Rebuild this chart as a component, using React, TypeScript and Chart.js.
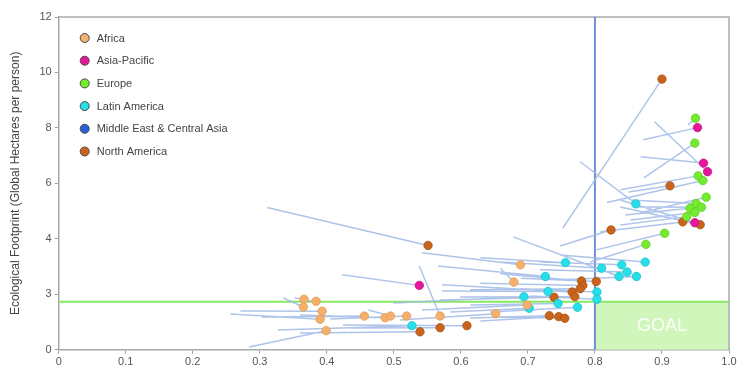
import React, { useEffect, useRef } from 'react';
import { Chart, registerables, LinearScale } from 'chart.js';

// ---------- data ----------
const Y_TICKS = [0, 3, 4, 6, 8, 10, 12];
const X_MIN = 0;
const X_MAX = 1;
const X_STEP = 0.1;
const GOAL_HDI = 0.8;
const BIOCAPACITY = 2.6;
const GOAL_LABEL = 'GOAL';
const Y_TITLE = 'Ecological Footprint (Global Hectares per person)';

const REGIONS = ['Africa', 'Asia-Pacific', 'Europe', 'Latin America', 'Middle East & Central Asia', 'North America'];

// [HDI, footprint] now
const AFRICA = [[0.366, 2.73], [0.384, 2.62], [0.365, 2.31], [0.393, 2.08], [0.390, 1.65], [0.399, 1.03], [0.456, 1.82], [0.487, 1.73], [0.495, 1.82], [0.519, 1.82], [0.569, 1.82], [0.652, 1.95], [0.689, 3.53], [0.679, 3.22], [0.699, 2.42]];
const AFRICA_FROM = [[0.352, 2.80], [0.370, 2.66], [0.335, 2.80], [0.271, 2.10], [0.256, 1.93], [0.284, 0.15], [0.303, 1.77], [0.360, 1.88], [0.462, 2.15], [0.405, 1.66], [0.538, 3.51], [0.509, 1.61], [0.542, 3.75], [0.659, 3.47], [0.542, 2.15]];

const ASIA_PACIFIC = [[0.538, 3.16], [0.953, 8.01], [0.962, 6.73], [0.968, 6.42], [0.949, 4.58]];
const ASIA_PACIFIC_FROM = [[0.423, 3.35], [0.872, 7.57], [0.868, 6.96], [0.889, 8.22], [0.838, 5.40]];

const EUROPE = [[0.950, 8.35], [0.949, 7.45], [0.954, 6.27], [0.961, 6.10], [0.966, 5.50], [0.951, 5.27], [0.959, 5.14], [0.942, 5.10], [0.949, 4.95], [0.937, 4.80], [0.904, 4.20], [0.876, 3.90]];
const EUROPE_FROM = [[0.939, 8.11], [0.873, 6.20], [0.838, 5.77], [0.818, 5.31], [0.868, 4.94], [0.853, 5.40], [0.857, 5.15], [0.845, 4.86], [0.853, 4.68], [0.838, 4.50], [0.802, 3.80], [0.793, 3.58]];

const LATIN_AMERICA = [[0.527, 1.30], [0.861, 5.26], [0.875, 3.58], [0.840, 3.53], [0.848, 3.40], [0.836, 3.32], [0.862, 3.32], [0.810, 3.47], [0.756, 3.57], [0.726, 3.32], [0.803, 3.04], [0.803, 2.73], [0.730, 3.05], [0.694, 2.87], [0.745, 2.50], [0.774, 2.30], [0.702, 2.24]];
const LATIN_AMERICA_FROM = [[0.327, 1.07], [0.778, 6.78], [0.748, 3.71], [0.718, 3.58], [0.718, 3.44], [0.678, 4.07], [0.748, 3.26], [0.659, 3.58], [0.629, 3.66], [0.566, 3.51], [0.689, 3.10], [0.704, 2.91], [0.572, 3.06], [0.499, 2.53], [0.614, 2.42], [0.644, 2.04], [0.584, 2.04]];

const MIDDLE_EAST: number[][] = [];
const MIDDLE_EAST_FROM: number[][] = [];

const NORTH_AMERICA = [[0.900, 9.76], [0.551, 3.88], [0.912, 5.91], [0.931, 4.61], [0.957, 4.51], [0.824, 4.32], [0.802, 3.23], [0.780, 3.24], [0.782, 3.16], [0.778, 3.10], [0.766, 3.04], [0.770, 2.87], [0.739, 2.84], [0.732, 1.84], [0.746, 1.79], [0.755, 1.70], [0.539, 0.97], [0.569, 1.19], [0.609, 1.30]];
const NORTH_AMERICA_FROM = [[0.752, 4.38], [0.311, 5.13], [0.850, 5.69], [0.808, 4.25], [0.838, 5.15], [0.748, 3.87], [0.690, 3.29], [0.659, 3.37], [0.629, 3.20], [0.614, 3.08], [0.572, 3.17], [0.599, 2.85], [0.569, 2.69], [0.614, 1.72], [0.629, 1.55], [0.659, 1.77], [0.360, 0.90], [0.435, 1.18], [0.424, 1.34]];

const REGION_NOW = [AFRICA, ASIA_PACIFIC, EUROPE, LATIN_AMERICA, MIDDLE_EAST, NORTH_AMERICA];
const REGION_FROM = [AFRICA_FROM, ASIA_PACIFIC_FROM, EUROPE_FROM, LATIN_AMERICA_FROM, MIDDLE_EAST_FROM, NORTH_AMERICA_FROM];

// ---------- styles ----------
const COLORS = ['#f5b06c', '#e8169b', '#72ec2c', '#27dfe9', '#2a5fd8', '#c9641d'];
const BORDERS = ['#e29a55', '#c40f82', '#5ccc1e', '#19c3cc', '#1d48b0', '#a9500f'];
const FONT = "'Liberation Sans', Arial, Helvetica, sans-serif";

// ---------- segmented y scale (equal spacing between tick values) ----------
function efToDecimal(v: number): number {
  const n = Y_TICKS.length - 1;
  for (let i = 0; i < n; i++) {
    const a = Y_TICKS[i], b = Y_TICKS[i + 1];
    if (v <= b || i === n - 1) return (i + (v - a) / (b - a)) / n;
  }
  return 1;
}
function decimalToEf(d: number): number {
  const n = Y_TICKS.length - 1;
  const pos = d * n;
  const i = Math.max(0, Math.min(n - 1, Math.floor(pos)));
  const a = Y_TICKS[i], b = Y_TICKS[i + 1];
  return a + (pos - i) * (b - a);
}

class SegmentedScale extends LinearScale {
  static id = 'segmented';
  buildTicks() {
    return Y_TICKS.map((value) => ({ value }));
  }
  getPixelForValue(value: any) {
    if (value === null || value === undefined || isNaN(value)) return NaN;
    return this.getPixelForDecimal(efToDecimal(value));
  }
  getValueForPixel(pixel: number) {
    return decimalToEf(this.getDecimalForPixel(pixel));
  }
}

Chart.register(...registerables, SegmentedScale as any);

const backdropPlugin = {
  id: 'backdrop',
  beforeDatasetsDraw(chart: any) {
    const { ctx, chartArea, scales } = chart;
    const xs = scales.x, ys = scales.y;
    const gx = xs.getPixelForValue(GOAL_HDI);
    const gxr = xs.getPixelForValue(X_MAX);
    const by = ys.getPixelForValue(BIOCAPACITY);
    const y0 = ys.getPixelForValue(0);
    ctx.save();
    // goal box
    ctx.fillStyle = '#d0f6bc';
    ctx.fillRect(gx, by, gxr - gx, y0 - by);
    ctx.font = `18px ${FONT}`;
    ctx.fillStyle = 'rgba(255,255,255,0.92)';
    ctx.textAlign = 'center';
    ctx.textBaseline = 'middle';
    ctx.fillText(GOAL_LABEL, xs.getPixelForValue((GOAL_HDI + X_MAX) / 2), (by + y0) / 2);
    // biocapacity line
    ctx.strokeStyle = '#88e862';
    ctx.lineWidth = 2;
    ctx.beginPath();
    ctx.moveTo(chartArea.left, by);
    ctx.lineTo(chartArea.right, by);
    ctx.stroke();
    // frame top/right
    ctx.strokeStyle = '#ababab';
    ctx.lineWidth = 1.5;
    ctx.beginPath();
    ctx.moveTo(chartArea.left, chartArea.top);
    ctx.lineTo(chartArea.right, chartArea.top);
    ctx.lineTo(chartArea.right, chartArea.bottom);
    ctx.stroke();
    // HDI threshold
    ctx.strokeStyle = '#6f90d8';
    ctx.lineWidth = 2;
    ctx.beginPath();
    ctx.moveTo(gx, chartArea.top);
    ctx.lineTo(gx, chartArea.bottom);
    ctx.stroke();
    ctx.restore();
  },
};

const legendPlugin = {
  id: 'innerLegend',
  afterDatasetsDraw(chart: any) {
    const { ctx, chartArea } = chart;
    ctx.save();
    ctx.font = `11px ${FONT}`;
    ctx.textAlign = 'left';
    ctx.textBaseline = 'middle';
    REGIONS.forEach((name, i) => {
      const cx = chartArea.left + 26;
      const cy = chartArea.top + 21 + i * 22.7;
      ctx.beginPath();
      ctx.arc(cx, cy, 4.5, 0, Math.PI * 2);
      ctx.fillStyle = COLORS[i];
      ctx.fill();
      ctx.lineWidth = 1;
      ctx.strokeStyle = '#4a4a4a';
      ctx.stroke();
      ctx.fillStyle = '#444';
      ctx.fillText(name, cx + 12, cy + 0.5);
    });
    ctx.restore();
  },
};

export default function App() {
  const canvasRef = useRef<HTMLCanvasElement | null>(null);

  useEffect(() => {
    if (!canvasRef.current) return;

    const trailData: any[] = [];
    REGION_NOW.forEach((pts, r) => {
      pts.forEach((p, i) => {
        const f = REGION_FROM[r][i];
        trailData.push({ x: f[0], y: f[1] }, { x: p[0], y: p[1] }, { x: p[0], y: null });
      });
    });

    const pointSets = REGIONS.map((name, r) => ({
      type: 'scatter' as const,
      label: name,
      data: REGION_NOW[r].map((p) => ({ x: p[0], y: p[1] })),
      backgroundColor: COLORS[r],
      borderColor: BORDERS[r],
      borderWidth: 0.8,
      pointRadius: 4.2,
      order: 1,
    }));

    const chart = new Chart(canvasRef.current, {
      type: 'scatter',
      data: {
        datasets: [
          ...pointSets,
          {
            type: 'scatter',
            label: 'trails',
            data: trailData,
            showLine: true,
            spanGaps: false,
            borderColor: 'rgba(160,186,230,0.85)',
            borderWidth: 1.5,
            pointRadius: 0,
            order: 10,
          } as any,
        ],
      },
      options: {
        animation: false,
        responsive: true,
        maintainAspectRatio: false,
        layout: { padding: { top: 17, right: 10, left: 0, bottom: 0 } },
        plugins: { legend: { display: false }, tooltip: { enabled: false } },
        scales: {
          x: {
            type: 'linear',
            min: X_MIN,
            max: X_MAX,
            ticks: {
              stepSize: X_STEP,
              color: '#555',
              font: { family: FONT, size: 11 },
              padding: 2,
              maxRotation: 0,
              callback: (v: any) => (Number(v) === 0 ? '0' : Number(v).toFixed(1)),
            },
            grid: { drawOnChartArea: false, drawTicks: true, tickLength: 4, color: '#a0a0a0' },
            border: { color: '#a8a8a8', width: 1.5 },
            afterFit: (s: any) => { s.height = 19.3; },
          },
          y: {
            type: 'segmented' as any,
            min: Y_TICKS[0],
            max: Y_TICKS[Y_TICKS.length - 1],
            ticks: {
              color: '#555',
              font: { family: FONT, size: 11 },
              padding: 3,
              callback: (v: any) => String(v),
            },
            grid: { drawOnChartArea: false, drawTicks: true, tickLength: 4, color: '#a0a0a0' },
            border: { color: '#a8a8a8', width: 1.5 },
            title: {
              display: true,
              text: Y_TITLE,
              color: '#444',
              font: { family: FONT, size: 12 },
              padding: { top: 8, bottom: 0 },
            },
            afterFit: (s: any) => { s.width = 58.7; },
          } as any,
        },
      },
      plugins: [backdropPlugin, legendPlugin],
    });

    return () => chart.destroy();
  }, []);

  return (
    <div style={{ position: 'fixed', left: 0, top: 0, width: 739, height: 369, background: '#fff' }}>
      <canvas ref={canvasRef} />
    </div>
  );
}
